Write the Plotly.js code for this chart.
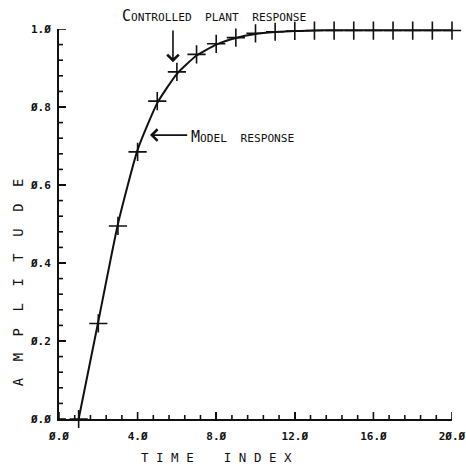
<!DOCTYPE html>
<html>
<head>
<meta charset="utf-8">
<script src="https://cdn.plot.ly/plotly-3.0.1.min.js"></script>
<style>html,body{margin:0;padding:0;background:#fff;}#chart{width:466px;height:466px;}</style>
</head>
<body>
<div id="chart"></div>
<script>
// Time index samples
const timeIndex = [1,2,3,4,5,6,7,8,9,10,11,12,13,14,15,16,17,18,19,20];
// Model response (solid line)
const modelResponse = [0.0,0.25,0.50,0.69,0.81,0.885,0.932,0.960,0.977,0.987,0.992,0.995,0.996,0.997,0.997,0.997,0.997,0.997,0.997,0.997];
// Controlled plant response (+ markers)
const plantResponse = [0.0,0.245,0.495,0.685,0.815,0.89,0.935,0.962,0.978,0.989,0.993,0.995,0.996,0.996,0.996,0.996,0.996,0.996,0.996,0.996];
// Tick labels (plotter draws slashed zeros)
const xTickVals  = [0,4,8,12,16,20];
const xTickPlain = ['0.0','4.0','8.0','12.0','16.0','20.0'];
const xTickText  = ['Ø.Ø','4.Ø','8.Ø','12.Ø','16.Ø','2Ø.Ø'];
const yTickVals  = [0,0.2,0.4,0.6,0.8,1.0];
const yTickPlain = ['0.0','0.2','0.4','0.6','0.8','1.0'];
const yTickText  = ['Ø.Ø','Ø.2','Ø.4','Ø.6','Ø.8','1.Ø'];
const xMinorStep = 0.8, yMinorStep = 0.04;

function alias(a, b) { const o = {}; a.forEach((k, i) => { o[k] = b[i]; }); return o; }

// axis tick decorations (inside ticks) as thin filled rects, generated from the tick arrays
const xPerPx = 20 / 393, yPerPx = 1 / 390;
const shapes = [];
const xMinor = [], yMinor = [];
for (let i = 0; i <= Math.round(20 / xMinorStep); i++) xMinor.push(+(i * xMinorStep).toFixed(4));
for (let i = 0; i <= Math.round(1 / yMinorStep); i++) yMinor.push(+(i * yMinorStep).toFixed(4));
xMinor.forEach(v => {
  const major = xTickVals.some(t => Math.abs(t - v) < 1e-6);
  shapes.push({type: 'rect', xref: 'x', yref: 'y', x0: v - 0.8 * xPerPx, x1: v + 0.8 * xPerPx, y0: 0, y1: (major ? 7 : 4) * yPerPx,
    fillcolor: '#111', line: {width: 0}, layer: 'above'});
});
yMinor.forEach(v => {
  const major = yTickVals.some(t => Math.abs(t - v) < 1e-6);
  shapes.push({type: 'rect', xref: 'x', yref: 'y', y0: v - 0.8 * yPerPx, y1: v + 0.8 * yPerPx, x0: 0, x1: (major ? 7 : 4) * xPerPx,
    fillcolor: '#111', line: {width: 0}, layer: 'above'});
});

const traces = [
  {x: timeIndex, y: modelResponse, type: 'scatter', mode: 'lines', name: 'Model response',
   line: {color: '#111', width: 2, shape: 'spline', smoothing: 0.5}, cliponaxis: false, hoverinfo: 'skip'},
  {x: timeIndex, y: plantResponse, type: 'scatter', mode: 'markers', name: 'Controlled plant response',
   marker: {symbol: 'cross-thin-open', size: 13, color: '#111', line: {color: '#111', width: 1.6}}, cliponaxis: false}
];

const tickFont = {family: 'DejaVu Sans Mono', size: 11, color: '#111', weight: 'bold'};
const labFont = {family: 'DejaVu Sans Mono', size: 11.2, color: '#111'};

const layout = {
  width: 466, height: 466,
  margin: {l: 59, r: 14, t: 29, b: 47},
  paper_bgcolor: '#fff', plot_bgcolor: '#fff',
  showlegend: false,
  shapes: shapes,
  xaxis: {range: [0, 20], tickmode: 'linear', tick0: 0, dtick: 4, tickformat: '.1f',
    labelalias: alias(xTickPlain, xTickText),
    ticks: 'inside', ticklen: 7, tickwidth: 1.5, tickcolor: '#111',
    showline: true, linecolor: '#111', linewidth: 2, showgrid: false, zeroline: false,
    tickfont: tickFont, ticklabelstandoff: 6, fixedrange: true},
  yaxis: {range: [0, 1], tickmode: 'linear', tick0: 0, dtick: 0.2, tickformat: '.1f',
    labelalias: alias(yTickPlain, yTickText),
    ticks: 'inside', ticklen: 7, tickwidth: 1.5, tickcolor: '#111',
    showline: true, linecolor: '#111', linewidth: 2, showgrid: false, zeroline: false,
    tickfont: tickFont, ticklabelstandoff: 4, fixedrange: true},
  annotations: [
    {xref: 'paper', yref: 'paper', x: (120 - 59) / 393, y: (419 - 16) / 390, xanchor: 'left', yanchor: 'middle', showarrow: false,
     text: '<span style="font-size:15px">C</span>ONTROLLED  PLANT  RESPONSE', font: labFont},
    {xref: 'x', yref: 'y', x: 5.8, y: 0.915, axref: 'x', ayref: 'y', ax: 5.8, ay: 1.0,
     text: '', showarrow: true, arrowhead: 4, arrowsize: 1.4, arrowwidth: 1.6, arrowcolor: '#111'},
    {xref: 'x', yref: 'y', x: 6.62, y: 0.724, xanchor: 'left', yanchor: 'middle', showarrow: false,
     text: '<span style="font-size:15px">M</span>ODEL  RESPONSE', font: labFont},
    {xref: 'x', yref: 'y', x: 4.63, y: 0.728, axref: 'x', ayref: 'y', ax: 6.6, ay: 0.728,
     text: '', showarrow: true, arrowhead: 4, arrowsize: 1.4, arrowwidth: 1.6, arrowcolor: '#111'},
    {xref: 'paper', yref: 'paper', x: -0.104, y: 0.351, xanchor: 'center', yanchor: 'middle', showarrow: false,
     textangle: -90, text: 'A\u00a0\u00a0M\u00a0\u00a0P\u00a0\u00a0L\u00a0\u00a0I\u00a0\u00a0T\u00a0\u00a0U\u00a0\u00a0D\u00a0\u00a0E',
     font: {family: 'DejaVu Sans Mono', size: 13.8, color: '#111'}},
    {xref: 'paper', yref: 'paper', x: (216 - 59) / 393, y: -0.098, xanchor: 'center', yanchor: 'middle', showarrow: false,
     text: 'T\u00a0I\u00a0M\u00a0E\u00a0\u00a0\u00a0\u00a0I\u00a0N\u00a0D\u00a0E\u00a0X',
     font: {family: 'DejaVu Sans Mono', size: 12.5, color: '#111'}}
  ]
};

Plotly.newPlot('chart', traces, layout, {staticPlot: true, displayModeBar: false});
</script>
</body>
</html>
